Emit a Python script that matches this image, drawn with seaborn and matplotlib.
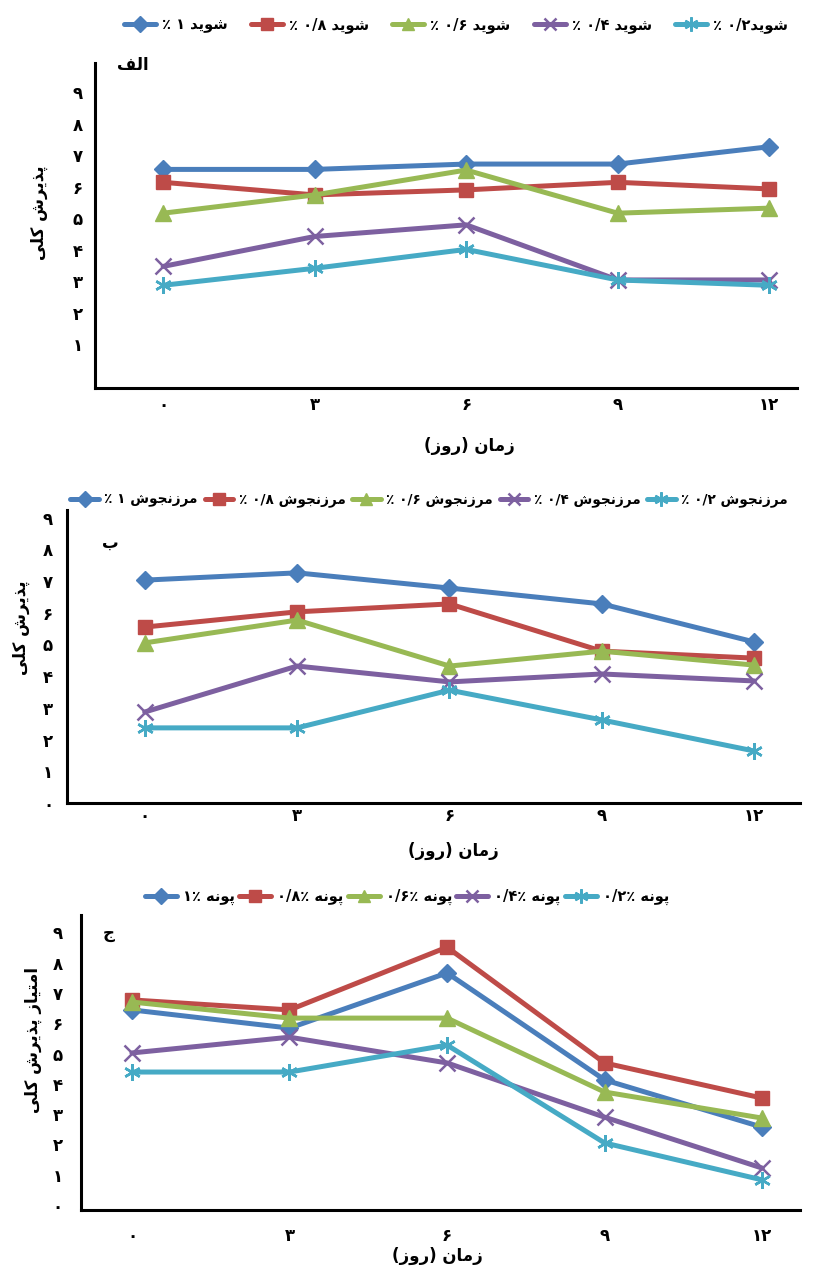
import re
import matplotlib
matplotlib.use("Agg")
import matplotlib.pyplot as plt
import seaborn as sns
import pandas as pd

# ---------------- data ----------------
days = [0, 3, 6, 9, 12]
day_labels = ["۰", "۳", "۶", "۹", "۱۲"]
fa_digits = ["۰", "۱", "۲", "۳", "۴", "۵", "۶", "۷", "۸", "۹"]

# panel alef (dill / شوید)
shevid_1 = [6.55, 6.55, 6.72, 6.72, 7.27]
shevid_08 = [6.14, 5.74, 5.90, 6.14, 5.93]
shevid_06 = [5.16, 5.74, 6.53, 5.16, 5.32]
shevid_04 = [3.47, 4.42, 4.79, 3.04, 3.04]
shevid_02 = [2.87, 3.41, 4.01, 3.04, 2.87]
shevid_labels = ["شوید ۱ ٪", "شوید ۰/۸ ٪", "شوید ۰/۶ ٪", "شوید ۰/۴ ٪", "شوید۰/۲ ٪"]

# panel be (marjoram / مرزنجوش)
marz_1 = [7.03, 7.26, 6.78, 6.28, 5.08]
marz_08 = [5.55, 6.03, 6.28, 4.79, 4.57]
marz_06 = [5.05, 5.77, 4.32, 4.79, 4.35]
marz_04 = [2.87, 4.32, 3.82, 4.07, 3.85]
marz_02 = [2.37, 2.37, 3.56, 2.62, 1.64]
marz_labels = ["مرزنجوش ۱ ٪", "مرزنجوش ۰/۸ ٪", "مرزنجوش ۰/۶ ٪", "مرزنجوش ۰/۴ ٪", "مرزنجوش ۰/۲ ٪"]

# panel jim (pennyroyal / پونه)
pune_1 = [6.44, 5.84, 7.66, 4.13, 2.57]
pune_08 = [6.77, 6.44, 8.51, 4.69, 3.53]
pune_06 = [6.70, 6.17, 6.17, 3.73, 2.87]
pune_04 = [5.02, 5.54, 4.69, 2.90, 1.22]
pune_02 = [4.39, 4.39, 5.28, 2.05, 0.83]
pune_labels = ["پونه ۱٪", "پونه ۰/۸٪", "پونه ۰/۶٪", "پونه ۰/۴٪", "پونه ۰/۲٪"]

panel_letters = ["الف", "ب", "ج"]
ylabels = ["پذیرش کلی", "پذیرش کلی", "امتیاز پذیرش کلی"]
xlabel_text = "زمان (روز)"

# ---------------- simple Persian shaping / visual ordering ----------------
FORMS = {
    "ا": ("\uFE8D", "\uFE8E", None, None),
    "ب": ("\uFE8F", "\uFE90", "\uFE91", "\uFE92"),
    "پ": ("\uFB56", "\uFB57", "\uFB58", "\uFB59"),
    "ت": ("\uFE95", "\uFE96", "\uFE97", "\uFE98"),
    "ج": ("\uFE9D", "\uFE9E", "\uFE9F", "\uFEA0"),
    "د": ("\uFEA9", "\uFEAA", None, None),
    "ذ": ("\uFEAB", "\uFEAC", None, None),
    "ر": ("\uFEAD", "\uFEAE", None, None),
    "ز": ("\uFEAF", "\uFEB0", None, None),
    "ش": ("\uFEB5", "\uFEB6", "\uFEB7", "\uFEB8"),
    "ف": ("\uFED1", "\uFED2", "\uFED3", "\uFED4"),
    "ک": ("\uFB8E", "\uFB8F", "\uFB90", "\uFB91"),
    "ل": ("\uFEDD", "\uFEDE", "\uFEDF", "\uFEE0"),
    "م": ("\uFEE1", "\uFEE2", "\uFEE3", "\uFEE4"),
    "ن": ("\uFEE5", "\uFEE6", "\uFEE7", "\uFEE8"),
    "ه": ("\uFEE9", "\uFEEA", "\uFEEB", "\uFEEC"),
    "و": ("\uFEED", "\uFEEE", None, None),
    "ی": ("\uFBFC", "\uFBFD", "\uFBFE", "\uFBFF"),
}


def shape(s):
    out = []
    n = len(s)
    for i, c in enumerate(s):
        if c not in FORMS:
            out.append(c)
            continue
        iso, fin, ini, med = FORMS[c]
        prev = s[i - 1] if i > 0 else None
        nxt = s[i + 1] if i < n - 1 else None
        jp = prev in FORMS and FORMS[prev][2] is not None
        jn = ini is not None and nxt in FORMS
        if jp and jn:
            out.append(med)
        elif jp:
            out.append(fin)
        elif jn:
            out.append(ini)
        else:
            out.append(iso)
    return "".join(out)


MIRROR = {"(": ")", ")": "("}


def fa(s):
    shaped = shape(s)
    tokens = re.findall(r"[۰-۹]+(?:/[۰-۹]+)*٪?|.", shaped)
    tokens = [MIRROR.get(t, t) for t in reversed(tokens)]
    return "".join(tokens)


# ---------------- style ----------------
sns.set_style("white")
plt.rcParams["font.family"] = ["DejaVu Sans"]
plt.rcParams["font.weight"] = "bold"
plt.rcParams["text.color"] = "black"
plt.rcParams["axes.labelcolor"] = "black"
plt.rcParams["xtick.color"] = "black"
plt.rcParams["ytick.color"] = "black"

colors = ["#4A7EBB", "#BE4B48", "#98B954", "#7D60A0", "#46AAC5"]
markers = ["D", "s", "^", "x", (6, 2, 0)]
msizes = [9, 10, 11, 11, 12]

fig = plt.figure(figsize=(8.14, 12.72), dpi=100)

panels = [
    dict(series=[shevid_1, shevid_08, shevid_06, shevid_04, shevid_02], labels=shevid_labels,
         rect=[0.1167, 0.6950, 0.8624, 0.2555], ylim=(-0.39, 9.93), xlim=(-1.35, 12.55),
         yticks=list(range(1, 10)), leg=(0.56, 0.980), ylab=(-0.067, 0.54), xlab=(0.534, -0.150),
         letter=(0.054, 0.994), xpad=6, ypad=9, legcs=1.6, legfs=10.5, leghl=2.2),
    dict(series=[marz_1, marz_08, marz_06, marz_04, marz_02], labels=marz_labels,
         rect=[0.0823, 0.3687, 0.9005, 0.2303], ylim=(0.0, 9.24), xlim=(-1.53, 12.9),
         yticks=list(range(0, 10)), leg=(0.527, 0.607), ylab=(-0.051, 0.60), xlab=(0.527, -0.133),
         letter=(0.059, 0.887), xpad=3, ypad=10, legcs=0.5, legfs=9.8, leghl=2.1),
    dict(series=[pune_1, pune_08, pune_06, pune_04, pune_02], labels=pune_labels,
         rect=[0.0995, 0.0487, 0.8833, 0.2319], ylim=(-0.165, 9.57), xlim=(-0.97, 12.72),
         yticks=list(range(0, 10)), leg=(0.50, 0.295), ylab=(-0.054, 0.576), xlab=(0.495, -0.126),
         letter=(0.038, 0.939), xpad=12, ypad=13, legcs=0.3, legfs=10.5, leghl=2.2),
]

for p_i, p in enumerate(panels):
    ax = fig.add_axes(p["rect"])
    handles = []
    for s_i, vals in enumerate(p["series"]):
        df = pd.DataFrame({"day": days, "score": vals})
        filled = markers[s_i] in ("D", "s", "^")
        sns.lineplot(data=df, x="day", y="score", ax=ax, color=colors[s_i],
                     linewidth=3.6, marker=markers[s_i], markersize=msizes[s_i],
                     markeredgecolor=colors[s_i], markerfacecolor=colors[s_i],
                     markeredgewidth=1.0 if filled else 1.8, legend=False)
        line = ax.get_lines()[-1]
        line.set_label(fa(p["labels"][s_i]))
        handles.append(line)

    ax.set_xlim(*p["xlim"])
    ax.set_ylim(*p["ylim"])
    ax.set_xticks(days)
    ax.set_xticklabels(day_labels, fontsize=12, fontweight="bold")
    ax.set_yticks(p["yticks"])
    ax.set_yticklabels([fa_digits[v] for v in p["yticks"]], fontsize=12, fontweight="bold")
    ax.tick_params(axis="x", length=0, pad=p["xpad"], colors="black")
    ax.tick_params(axis="y", length=0, pad=p["ypad"], colors="black")
    for side in ("top", "right"):
        ax.spines[side].set_visible(False)
    for side in ("left", "bottom"):
        ax.spines[side].set_color("black")
        ax.spines[side].set_linewidth(2.2)

    ax.set_xlabel(fa(xlabel_text), fontsize=12, fontweight="bold", color="black")
    ax.xaxis.set_label_coords(*p["xlab"])
    ax.set_ylabel(fa(ylabels[p_i]), fontsize=12, fontweight="bold", color="black")
    ax.yaxis.set_label_coords(*p["ylab"])

    ax.text(p["letter"][0], p["letter"][1], fa(panel_letters[p_i]), transform=ax.transAxes,
            fontsize=12, fontweight="bold", ha="center", va="center", color="black")

    fig.legend(handles=handles, labels=[h.get_label() for h in handles], loc="center",
               bbox_to_anchor=p["leg"], ncol=5, frameon=False, handlelength=p["leghl"],
               columnspacing=p["legcs"], handletextpad=0.4, markerscale=0.85,
               labelcolor="black", prop={"size": p["legfs"], "weight": "bold"})

fig.savefig("out.png", dpi=100, facecolor="white")
